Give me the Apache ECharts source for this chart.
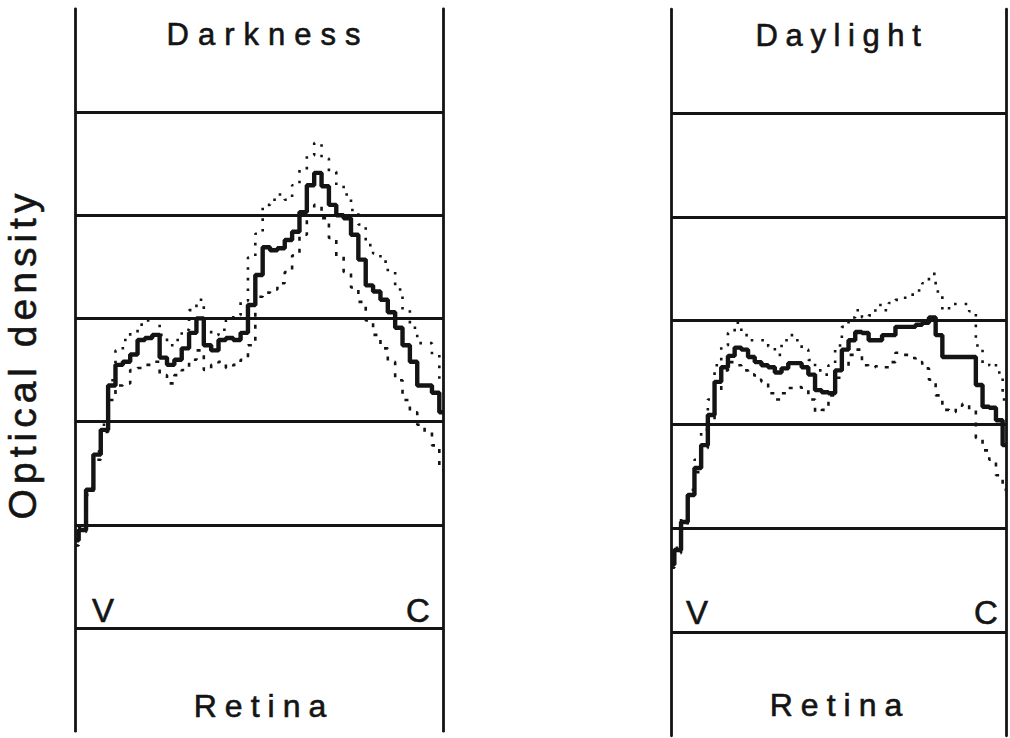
<!DOCTYPE html>
<html>
<head>
<meta charset="utf-8">
<script src="https://cdn.jsdelivr.net/npm/echarts@6/dist/echarts.min.js"></script>
<style>
html,body{margin:0;padding:0;background:#fff;}
#chart{width:1010px;height:738px;}
</style>
</head>
<body>
<div id="chart"></div>
<script>
// positions along the retina (0 = V side, 100 = C side)
const positions = [0,2,4,6,8,10,12,14,16,18,20,22,24,26,28,30,32,34,36,38,40,42,44,46,48,50,52,54,56,58,60,62,64,66,68,70,72,74,76,78,80,82,84,86,88,90,92,94,96,98,100];

// optical density (gridline units)
const darknessSolid = [0.85,0.95,1.34,1.68,1.92,2.35,2.55,2.58,2.65,2.79,2.81,2.84,2.62,2.55,2.60,2.71,2.86,3.00,2.74,2.69,2.79,2.81,2.79,2.86,3.13,3.42,3.69,3.66,3.68,3.76,3.84,4.03,4.29,4.41,4.28,4.10,4.00,3.97,3.81,3.57,3.32,3.26,3.18,3.06,2.91,2.74,2.58,2.35,2.35,2.28,2.09];
const darknessUpper = [0.80,0.97,1.36,1.71,1.97,2.40,2.69,2.79,2.86,2.94,2.98,3.00,2.84,2.74,2.79,2.89,3.08,3.18,2.89,2.84,2.89,2.98,3.03,3.17,3.59,3.82,4.10,4.15,4.20,4.15,4.29,4.44,4.58,4.70,4.55,4.42,4.29,4.20,4.05,3.91,3.71,3.63,3.55,3.45,3.28,3.08,2.91,2.76,2.76,2.65,2.40];
const darknessLower = [0.80,0.93,1.29,1.63,1.90,2.21,2.35,2.37,2.50,2.52,2.55,2.58,2.45,2.37,2.45,2.50,2.60,2.69,2.50,2.55,2.58,2.52,2.55,2.60,2.74,3.21,3.25,3.28,3.34,3.45,3.61,3.81,4.00,4.10,3.97,3.78,3.60,3.45,3.30,3.16,2.98,2.84,2.71,2.58,2.40,2.21,2.09,1.97,1.90,1.77,1.53];

const daylightSolid = [0.65,0.79,1.06,1.32,1.58,1.80,2.09,2.41,2.55,2.66,2.74,2.72,2.65,2.60,2.57,2.55,2.50,2.54,2.59,2.59,2.55,2.48,2.33,2.31,2.30,2.52,2.72,2.81,2.89,2.88,2.81,2.81,2.86,2.86,2.94,2.94,2.94,2.96,2.98,3.03,2.86,2.65,2.65,2.65,2.65,2.65,2.38,2.17,2.16,2.04,1.80];
const daylightUpper = [0.65,0.81,1.10,1.37,1.66,1.95,2.24,2.57,2.76,2.88,2.98,2.86,2.81,2.81,2.81,2.75,2.67,2.81,2.86,2.81,2.72,2.62,2.52,2.48,2.57,2.76,2.94,3.03,3.10,3.03,3.05,3.15,3.10,3.17,3.20,3.22,3.25,3.29,3.36,3.45,3.28,3.10,3.16,3.16,3.16,3.09,2.76,2.57,2.59,2.50,2.24];
const daylightLower = [0.62,0.76,1.02,1.29,1.54,1.77,2.04,2.33,2.52,2.60,2.57,2.52,2.48,2.43,2.41,2.30,2.24,2.30,2.35,2.36,2.33,2.24,2.12,2.14,2.28,2.45,2.55,2.67,2.72,2.57,2.55,2.56,2.55,2.60,2.69,2.67,2.64,2.60,2.54,2.43,2.28,2.14,2.12,2.18,2.20,2.14,1.87,1.75,1.66,1.51,1.37];

// texts
const panelTitles = ['Darkness', 'Daylight'];
const yTitle = 'Optical density';
const xTitle = 'Retina';
const endLabels = ['V', 'C'];

const INK = '#141414';
const FONT = '"Liberation Sans", Arial, Helvetica, sans-serif';

function pairs(vals) { return positions.map((x, i) => [x, vals[i]]); }

const chart = echarts.init(document.getElementById('chart'), null, { renderer: 'svg' });

const frameLine = { show: true, onZero: false, lineStyle: { color: INK, width: 2.8 } };
function yAxes(g) {
  return [
    {
      gridIndex: g, type: 'value', min: -1, max: 6, interval: 1, position: 'left',
      axisLine: frameLine, axisTick: { show: false }, axisLabel: { show: false },
      splitLine: { show: true, showMinLine: false, showMaxLine: false, lineStyle: { color: INK, width: 2.8 } }
    },
    {
      gridIndex: g, type: 'value', min: -1, max: 6, interval: 1, position: 'right',
      axisLine: frameLine, axisTick: { show: false }, axisLabel: { show: false },
      splitLine: { show: false }
    }
  ];
}

function lineSeries(g, vals, kind) {
  const s = {
    type: 'line', xAxisIndex: g, yAxisIndex: g * 2, data: pairs(vals),
    step: 'middle', showSymbol: false, silent: true, animation: false
  };
  if (kind === 'solid') {
    s.lineStyle = { color: INK, width: 4.4, type: 'solid' };
    s.z = 5;
  } else if (kind === 'upper') {
    s.lineStyle = { color: INK, width: 2.6, type: [2.6, 8] };
    s.z = 3;
  } else {
    s.lineStyle = { color: INK, width: 2.6, type: [4, 8] };
    s.z = 3;
  }
  return s;
}

function txt(text, x, y, size, rot) {
  return {
    type: 'text', x: x, y: y, rotation: rot || 0, silent: true,
    style: { text: text, font: size + 'px ' + FONT, fill: INK, stroke: INK, lineWidth: 0.6,
             align: 'center', verticalAlign: 'middle' }
  };
}

const option = {
  animation: false,
  backgroundColor: '#ffffff',
  grid: [
    { left: 75, right: 567, top: 8.8, bottom: 6.8 },
    { left: 671, right: 4, top: 9.2, bottom: 2.2 }
  ],
  xAxis: [
    { gridIndex: 0, type: 'value', min: 0, max: 100, show: false },
    { gridIndex: 1, type: 'value', min: 0, max: 100, show: false }
  ],
  yAxis: yAxes(0).concat(yAxes(1)),
  series: [
    lineSeries(0, darknessUpper, 'upper'),
    lineSeries(0, darknessLower, 'lower'),
    lineSeries(0, darknessSolid, 'solid'),
    lineSeries(1, daylightUpper, 'upper'),
    lineSeries(1, daylightLower, 'lower'),
    lineSeries(1, daylightSolid, 'solid')
  ],
  graphic: [
    txt(panelTitles[0], 268, 34, 31),
    txt(panelTitles[1], 842, 35, 31),
    txt(xTitle, 264, 706, 32),
    txt(xTitle, 840, 705, 32),
    txt(endLabels[0], 103, 610, 33),
    txt(endLabels[1], 418, 610, 33),
    txt(endLabels[0], 697, 612, 33),
    txt(endLabels[1], 986, 612, 33),
    txt(yTitle, 22, 354, 39, Math.PI / 2)
  ]
};

chart.setOption(option);

const spacing = { 'Darkness': 9, 'Daylight': 7.6, 'Retina': 8, 'Optical density': 5 };
function applySpacing() {
  document.querySelectorAll('#chart svg text').forEach(t => {
    const s = spacing[t.textContent.trim()];
    if (s) t.style.letterSpacing = s + 'px';
  });
}
chart.on('finished', applySpacing);
applySpacing();
</script>
</body>
</html>
